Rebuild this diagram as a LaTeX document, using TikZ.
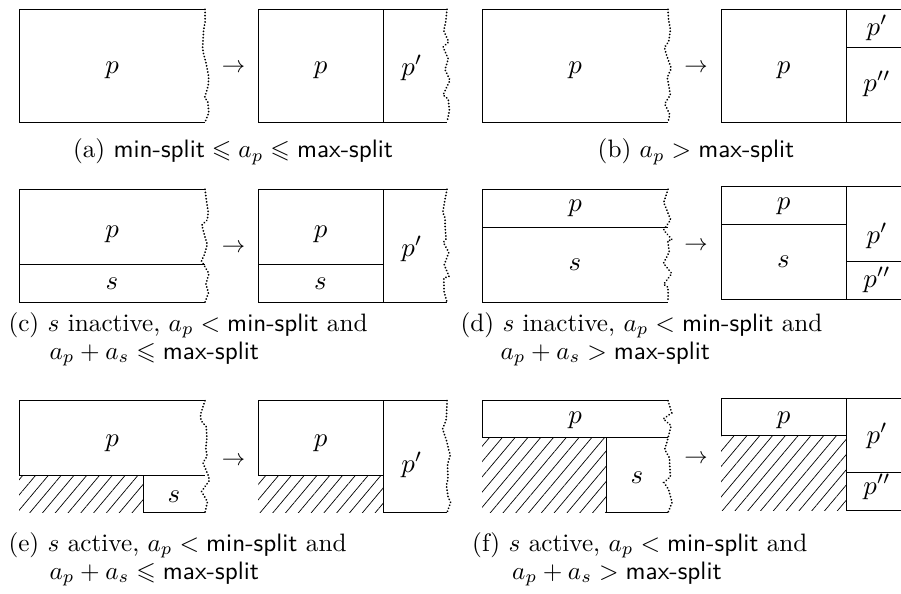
\documentclass[tikz,border=0pt]{standalone}
\usepackage{amssymb}
\usetikzlibrary{decorations.pathmorphing,patterns.meta}
\tikzset{
  wavy/.style={decorate,decoration={random steps,segment length=4pt,amplitude=2pt},
    line width=0.85pt,dash pattern=on 0.01pt off 1.35pt,line cap=round},
  hatch/.style={pattern={Lines[angle=50,distance=4.2pt,line width=0.3pt]}},
  lbl/.style={inner sep=0pt,scale=1.15},
  arr/.style={inner sep=0pt},
  captxt/.style={inner sep=0pt,anchor=base west,scale=1.08},
  captxtc/.style={inner sep=0pt,anchor=base,scale=1.08},
}
\newcommand{\msf}[1]{\mbox{\textsf{#1}}}
\newcommand{\slt}{\mathrel{\msf{<}}}
\newcommand{\sgt}{\mathrel{\msf{>}}}
\begin{document}
\begin{tikzpicture}[x=0.42857pt,y=-0.42857pt]
\pgfmathsetseed{11}
\clip (0,0) rectangle (901,594);
% ===== (a)
\draw (205,9.3) -- (19,9.3) -- (19,122) -- (205,122);
\draw[wavy] (205,9.3) -- (205,122);
\node[lbl] (a-p) at (112,70) {$p$};
\node[arr] (a-ar) at (233.5,68) {$\rightarrow$};
\draw (447,9.3) -- (258,9.3) -- (258,122) -- (447,122);
\draw (383,9.3) -- (383,122);
\draw[wavy] (447,9.3) -- (447,122);
\node[lbl] (a-p2) at (320.5,70) {$p$};
\node[lbl] (a-pp) at (412,68) {$p'$};
\node[captxtc] (cap-a) at (233,157.5) {(a)\ $\msf{min-split} \leqslant a_p \leqslant \msf{max-split}$};
% ===== (b)
\draw (668,9.3) -- (482,9.3) -- (482,122) -- (668,122);
\draw[wavy] (668,9.3) -- (668,122);
\node[lbl] (b-p) at (575,70) {$p$};
\node[arr] (b-ar) at (696,68) {$\rightarrow$};
\draw (910,9.3) -- (721,9.3) -- (721,122) -- (910,122);
\draw (846,9.3) -- (846,122);
\draw (846,47) -- (910,47);
\node[lbl] (b-p2) at (783.5,70) {$p$};
\node[lbl] (b-pp) at (877,28) {$p'$};
\node[lbl] (b-ppp) at (877,84) {$p''$};
\node[captxtc] (cap-b) at (696,157.5) {(b)\ $a_p \sgt \msf{max-split}$};
% ===== (c)
\draw (205,189.3) -- (19,189.3) -- (19,302.3) -- (205,302.3);
\draw (19,264.3) -- (205,264.3);
\draw[wavy] (205,189.3) -- (205,302.3);
\node[lbl] (c-p) at (112,234) {$p$};
\node[lbl] (c-s) at (112,284) {$s$};
\node[arr] (c-ar) at (233.5,248) {$\rightarrow$};
\draw (447,189.3) -- (258,189.3) -- (258,302.3) -- (447,302.3);
\draw (383,189.3) -- (383,302.3);
\draw (258,264.3) -- (383,264.3);
\draw[wavy] (447,189.3) -- (447,302.3);
\node[lbl] (c-p2) at (320.5,234) {$p$};
\node[lbl] (c-s2) at (320.5,284) {$s$};
\node[lbl] (c-pp) at (412,249) {$p'$};
\node[captxt] (cap-c1) at (8,331) {(c)\ $s$ inactive, $a_p \slt \msf{min-split}$ and};
\node[captxt] (cap-c2) at (49,359) {$a_p+a_s\leqslant \msf{max-split}$};
% ===== (d)
\draw (668,189.3) -- (482,189.3) -- (482,302.3) -- (668,302.3);
\draw (482,227.3) -- (668,227.3);
\draw[wavy] (668,189.3) -- (668,302.3);
\node[lbl] (d-p) at (575,208.3) {$p$};
\node[lbl] (d-s) at (575,265) {$s$};
\node[arr] (d-ar) at (696,246.7) {$\rightarrow$};
\draw (910,186.7) -- (721,186.7) -- (721,299) -- (910,299);
\draw (846,186.7) -- (846,299);
\draw (721,224) -- (846,224);
\draw (846,261.7) -- (910,261.7);
\node[lbl] (d-p2) at (783.5,206.7) {$p$};
\node[lbl] (d-s2) at (783.5,261.7) {$s$};
\node[lbl] (d-pp) at (877,236) {$p'$};
\node[lbl] (d-ppp) at (877,280) {$p''$};
\node[captxt] (cap-d1) at (460,331) {(d)\ $s$ inactive, $a_p \slt \msf{min-split}$ and};
\node[captxt] (cap-d2) at (500,359) {$a_p+a_s \sgt \msf{max-split}$};
% ===== (e)
\fill[hatch] (19,475) rectangle (143.3,512.7);
\draw (205,400.7) -- (19,400.7) -- (19,475) -- (205,475);
\draw (143.3,475) -- (143.3,512.7) -- (205,512.7);
\draw[wavy] (205,400.7) -- (205,512.7);
\node[lbl] (e-p) at (112,443) {$p$};
\node[lbl] (e-s) at (174,497) {$s$};
\node[arr] (e-ar) at (233.5,461.7) {$\rightarrow$};
\fill[hatch] (258,475) rectangle (383,512.7);
\draw (447,400.7) -- (258,400.7) -- (258,475) -- (383,475);
\draw (383,400.7) -- (383,512.7) -- (447,512.7);
\draw[wavy] (447,400.7) -- (447,512.7);
\node[lbl] (e-p2) at (320.5,443) {$p$};
\node[lbl] (e-pp) at (412,465) {$p'$};
\node[captxt] (cap-e1) at (8,551) {(e)\ $s$ active, $a_p \slt \msf{min-split}$ and};
\node[captxt] (cap-e2) at (49,579) {$a_p+a_s\leqslant \msf{max-split}$};
% ===== (f)
\fill[hatch] (482,437.7) rectangle (606.7,512.7);
\draw (668,400.7) -- (482,400.7) -- (482,437.7) -- (668,437.7);
\draw (606.7,437.7) -- (606.7,512.7) -- (668,512.7);
\draw[wavy] (668,400.7) -- (668,512.7);
\node[lbl] (f-p) at (575,420) {$p$};
\node[lbl] (f-s) at (637,478) {$s$};
\node[arr] (f-ar) at (696,459) {$\rightarrow$};
\fill[hatch] (721,435) rectangle (846,510);
\draw (846,398.3) -- (721,398.3) -- (721,435) -- (846,435);
\draw (910,398.3) -- (846,398.3) -- (846,510) -- (910,510);
\draw (846,472.7) -- (910,472.7);
\node[lbl] (f-p2) at (783.5,420) {$p$};
\node[lbl] (f-pp) at (877,436) {$p'$};
\node[lbl] (f-ppp) at (877,487) {$p''$};
\node[captxt] (cap-f1) at (471.7,551) {(f)\ $s$ active, $a_p \slt \msf{min-split}$ and};
\node[captxt] (cap-f2) at (511.7,579) {$a_p+a_s \sgt \msf{max-split}$};
\end{tikzpicture}
\end{document}
